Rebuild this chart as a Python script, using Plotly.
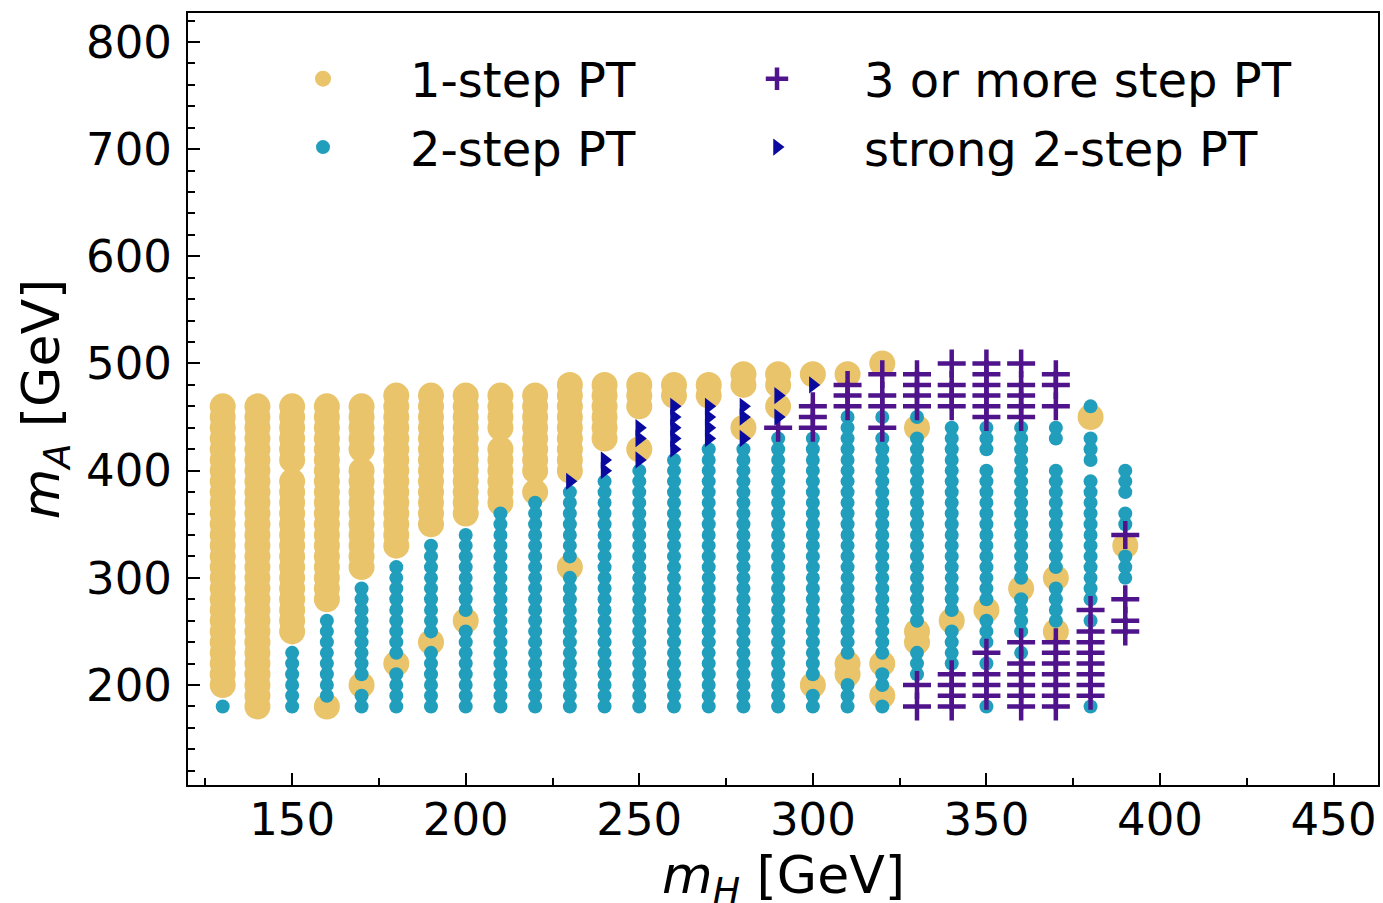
import plotly.graph_objects as go

# Scan grid spacing in m_A (GeV); each run below is (m_H, m_A_first, m_A_last)
MA_STEP = 10

# 1-step phase transition points
ONE_STEP_RUNS = [
    (130, 200, 460), (140, 180, 460),
    (150, 250, 390), (150, 410, 460),
    (160, 180, 180), (160, 280, 460),
    (170, 200, 200), (170, 310, 400), (170, 420, 460),
    (180, 220, 220), (180, 330, 470),
    (190, 240, 240), (190, 350, 470),
    (200, 260, 260), (200, 360, 470),
    (210, 370, 420), (210, 440, 470),
    (220, 380, 380), (220, 400, 470),
    (230, 310, 310), (230, 400, 480),
    (240, 430, 480),
    (250, 420, 420), (250, 460, 480),
    (260, 470, 480), (270, 470, 480),
    (280, 440, 440), (280, 480, 490),
    (290, 460, 460), (290, 480, 490),
    (300, 200, 200), (300, 490, 490),
    (310, 210, 220), (310, 490, 490),
    (320, 190, 190), (320, 220, 220), (320, 500, 500),
    (330, 240, 250), (330, 440, 440),
    (340, 260, 260), (350, 270, 270), (360, 290, 290),
    (370, 250, 250), (370, 300, 300),
    (380, 450, 450), (390, 330, 330),
]

# 2-step phase transition points
TWO_STEP_RUNS = [
    (130, 180, 180),
    (150, 180, 230),
    (160, 190, 260),
    (170, 180, 190), (170, 210, 290),
    (180, 180, 210), (180, 230, 310),
    (190, 180, 230), (190, 250, 330),
    (200, 180, 250), (200, 270, 340),
    (210, 180, 360), (220, 180, 370),
    (230, 180, 300), (230, 320, 380),
    (240, 180, 390), (250, 180, 400), (260, 180, 410),
    (270, 180, 420), (280, 180, 420), (290, 180, 430),
    (300, 180, 190), (300, 210, 430),
    (310, 180, 200), (310, 230, 450),
    (320, 180, 180), (320, 200, 210), (320, 230, 430), (320, 450, 450),
    (330, 210, 230), (330, 260, 430), (330, 450, 450),
    (340, 220, 250), (340, 270, 440),
    (350, 180, 180), (350, 220, 220), (350, 240, 260), (350, 280, 400), (350, 420, 440),
    (360, 230, 230), (360, 250, 280), (360, 300, 440),
    (370, 260, 290), (370, 310, 400), (370, 430, 440),
    (380, 180, 180), (380, 260, 260), (380, 280, 390), (380, 410, 430), (380, 460, 460),
    (390, 300, 320), (390, 350, 360), (390, 380, 400),
]

# 3 or more step phase transition points
MULTI_STEP_RUNS = [
    (290, 440, 440),
    (300, 440, 460),
    (310, 460, 480),
    (320, 440, 440), (320, 460, 470), (320, 490, 490),
    (330, 180, 180), (330, 200, 200), (330, 460, 490),
    (340, 180, 210), (340, 460, 480), (340, 500, 500),
    (350, 190, 210), (350, 230, 230), (350, 450, 500),
    (360, 180, 220), (360, 240, 240), (360, 450, 480), (360, 500, 500),
    (370, 180, 240), (370, 460, 460), (370, 480, 490),
    (380, 190, 250), (380, 270, 270),
    (390, 250, 260), (390, 280, 280), (390, 340, 340),
]

# strong 2-step phase transition points
STRONG_RUNS = [
    (230, 390, 390),
    (240, 400, 410),
    (250, 410, 410), (250, 430, 440),
    (260, 420, 460),
    (270, 430, 460),
    (280, 430, 430), (280, 450, 460),
    (290, 450, 450), (290, 470, 470),
    (300, 480, 480),
]

X_TICKS = [150, 200, 250, 300, 350, 400, 450]
Y_TICKS = [200, 300, 400, 500, 600, 700, 800]


def expand(runs):
    xs, ys = [], []
    for mh, lo, hi in runs:
        ma = lo
        while ma <= hi:
            xs.append(mh)
            ys.append(ma)
            ma += MA_STEP
    return xs, ys


YELLOW = "#e9c46a"
TEAL = "#219ebc"
PURPLE = "#4f148c"
NAVY = "#0a0a9e"
FONT = "DejaVu Sans"

fig = go.Figure()

x1, y1 = expand(ONE_STEP_RUNS)
fig.add_trace(go.Scatter(
    x=x1, y=y1, mode="markers", name="1-step PT",
    marker=dict(size=26, color=YELLOW, line=dict(width=0)),
    legend="legend", legendgroup="a", legendrank=1,
))

x2, y2 = expand(TWO_STEP_RUNS)
fig.add_trace(go.Scatter(
    x=x2, y=y2, mode="markers", name="2-step PT",
    marker=dict(size=14, color=TEAL, line=dict(width=0)),
    legend="legend", legendgroup="b", legendrank=2,
))

x3, y3 = expand(MULTI_STEP_RUNS)
fig.add_trace(go.Scatter(
    x=x3, y=y3, mode="markers", name="3 or more step PT",
    marker=dict(size=20, symbol="cross-thin", color=PURPLE,
                line=dict(width=4.5, color=PURPLE)),
    legend="legend2", legendgroup="c", legendrank=3,
))

x4, y4 = expand(STRONG_RUNS)
fig.add_trace(go.Scatter(
    x=x4, y=y4, mode="markers", name="strong 2-step PT",
    marker=dict(size=15, symbol="triangle-right", color=NAVY, line=dict(width=0)),
    legend="legend2", legendgroup="d", legendrank=4,
))

W, H = 1383, 903
ML, MR, MT, MB = 188, 5, 13, 118
PW, PH = W - ML - MR, H - MT - MB

legend_common = dict(
    xref="paper", yref="paper", xanchor="left", yanchor="top",
    font=dict(family=FONT, size=48, color="black"),
    bgcolor="rgba(0,0,0,0)", borderwidth=0,
    itemwidth=164, tracegroupgap=3, itemsizing="trace",
)

fig.update_layout(
    width=W, height=H,
    margin=dict(l=ML, r=MR, t=MT, b=MB, autoexpand=False),
    paper_bgcolor="white", plot_bgcolor="white",
    font=dict(family=FONT, color="black"),
    showlegend=True,
    legend=dict(x=(236 - ML) / PW, y=(H - MB - 41) / PH, **legend_common),
    legend2=dict(x=(690 - ML) / PW, y=(H - MB - 41) / PH, **legend_common),
    xaxis=dict(
        range=[120, 462.8], tickvals=X_TICKS,
        showgrid=False, zeroline=False,
        showline=True, mirror=True, linecolor="black", linewidth=2,
        ticks="inside", ticklen=12, tickwidth=2, tickcolor="black",
        minor=dict(dtick=25, tick0=0, ticks="inside", ticklen=7, tickwidth=1.5, tickcolor="black"),
        tickfont=dict(family=FONT, size=45, color="black"),
        ticklabelstandoff=-6,
    ),
    yaxis=dict(
        range=[106.7, 827], tickvals=Y_TICKS,
        showgrid=False, zeroline=False,
        showline=True, mirror=True, linecolor="black", linewidth=2,
        ticks="inside", ticklen=12, tickwidth=2, tickcolor="black",
        minor=dict(dtick=20, tick0=0, ticks="inside", ticklen=7, tickwidth=1.5, tickcolor="black"),
        tickfont=dict(family=FONT, size=45, color="black"),
        ticklabelstandoff=5,
        title=dict(text="<i>m<sub>A</sub></i> [GeV]", font=dict(family=FONT, size=52), standoff=10),
    ),
)

# x-axis title, set just below the tick labels
fig.add_annotation(
    text="<i>m<sub>H</sub></i> [GeV]",
    xref="paper", yref="paper", x=0.5, y=-(843 - (H - MB)) / PH,
    xanchor="center", yanchor="top", showarrow=False,
    font=dict(family=FONT, size=52, color="black"),
)

fig.write_html("out.html")
